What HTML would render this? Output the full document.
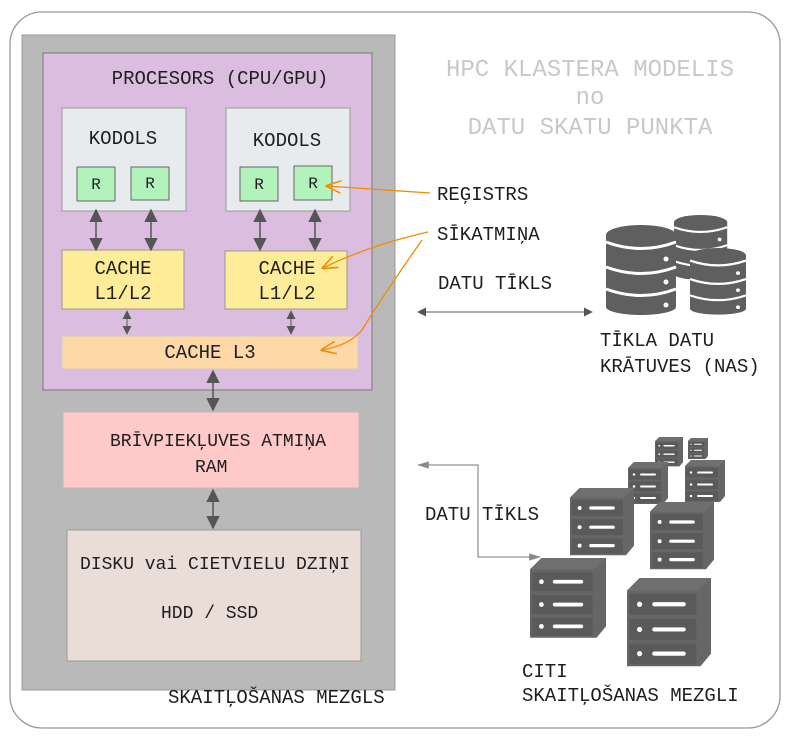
<!DOCTYPE html>
<html><head><meta charset="utf-8"><style>
body{margin:0;background:#fff}
svg text{font-family:"Liberation Mono",monospace;fill:#1e1e1e}
svg text.t{fill:#c8c8c8}
</style></head><body>
<svg width="789" height="738" viewBox="0 0 789 738" xmlns="http://www.w3.org/2000/svg">
<defs>
<marker id="ad" viewBox="0 0 10 10" refX="9" refY="5" markerWidth="9" markerHeight="9" orient="auto-start-reverse"><path d="M0,0 L10,5 L0,10 z" fill="#555"/></marker>
<marker id="ao" viewBox="0 0 10 10" refX="9" refY="5" markerWidth="12" markerHeight="12" orient="auto"><path d="M0,1 L10,5 L0,9" fill="none" stroke="#f08c00" stroke-width="1"/></marker>
<marker id="ag" viewBox="0 0 10 10" refX="9" refY="5" markerWidth="12" markerHeight="12" orient="auto-start-reverse"><path d="M0,2 L10,5 L0,8 z" fill="#888"/></marker>
<g id="srv">
<path d="M0,12 L12,0 L80,0 L80,0 L80,72 L70,84 L0,84 z" fill="#666"/>
<path d="M12,0 L80,0 L68,12 L0,12 z" fill="#6f6f6f"/>
<rect x="2" y="15" width="64" height="20" fill="#5a5a5a"/><rect x="2" y="39" width="64" height="20" fill="#5a5a5a"/><rect x="2" y="63" width="64" height="19" fill="#5a5a5a"/>
<circle cx="12" cy="25" r="2.5" fill="#fff"/><rect x="24" y="23" width="32" height="4" rx="2" fill="#fff"/>
<circle cx="12" cy="49" r="2.5" fill="#fff"/><rect x="24" y="47" width="32" height="4" rx="2" fill="#fff"/>
<circle cx="12" cy="72" r="2.5" fill="#fff"/><rect x="24" y="70" width="32" height="4" rx="2" fill="#fff"/>
</g>
<g id="db">
<rect x="0" y="10" width="70" height="72" fill="#5f5f5f"/>
<ellipse cx="35" cy="10" rx="35" ry="10" fill="#5f5f5f"/>
<ellipse cx="35" cy="82" rx="35" ry="8" fill="#5f5f5f"/>
<path d="M0,17 Q35,30 70,17" stroke="#fff" stroke-width="3" fill="none"/>
<path d="M0,42 Q35,55 70,42" stroke="#fff" stroke-width="3" fill="none"/>
<path d="M0,64 Q35,77 70,64" stroke="#fff" stroke-width="3" fill="none"/>
<circle cx="60" cy="34" r="2.5" fill="#fff"/><circle cx="60" cy="57" r="2.5" fill="#fff"/><circle cx="60" cy="80" r="2.5" fill="#fff"/>
</g>
</defs>
<rect x="10" y="12" width="770" height="716" rx="32" fill="#fff" stroke="#999" stroke-width="1.3"/>
<rect x="22" y="35" width="373" height="655" fill="#b9b9b9" stroke="#999"/>
<rect x="43" y="53" width="329" height="337" fill="#dbbde0" stroke="#777"/>
<text x="220" y="84" font-size="19" text-anchor="middle">PROCESORS (CPU/GPU)</text>
<rect x="62" y="108" width="124" height="103" fill="#e8ebee" stroke="#999"/>
<rect x="226" y="108" width="124" height="103" fill="#e8ebee" stroke="#999"/>
<text x="123" y="144" font-size="19" text-anchor="middle">KODOLS</text>
<text x="287" y="146" font-size="19" text-anchor="middle">KODOLS</text>
<g fill="#b2f2bb" stroke="#666">
<rect x="77" y="167" width="38" height="34"/><rect x="131" y="167" width="38" height="33"/>
<rect x="240" y="167" width="38" height="34"/><rect x="294" y="166" width="38" height="34"/>
</g>
<g font-size="16" text-anchor="middle"><text x="96" y="189">R</text><text x="150" y="188">R</text><text x="259" y="189">R</text><text x="313" y="188">R</text></g>
<rect x="62" y="250" width="122" height="59" fill="#ffec99" stroke="#999"/>
<rect x="225" y="251" width="122" height="58" fill="#ffec99" stroke="#999"/>
<g font-size="19" text-anchor="middle"><text x="123" y="274">CACHE</text><text x="123" y="299">L1/L2</text><text x="287" y="274">CACHE</text><text x="287" y="299">L1/L2</text></g>
<rect x="62" y="336" width="296" height="33" fill="#ffd8a8" stroke="#ccc"/>
<text x="210" y="358" font-size="19" text-anchor="middle">CACHE L3</text>
<g stroke="#555" stroke-width="1.5" marker-start="url(#ad)" marker-end="url(#ad)">
<line x1="96" y1="210" x2="96" y2="250"/><line x1="151" y1="210" x2="151" y2="250"/>
<line x1="260" y1="210" x2="260" y2="250"/><line x1="315" y1="210" x2="315" y2="250"/>
<line x1="213" y1="371" x2="213" y2="410"/><line x1="213" y1="490" x2="213" y2="528"/>
</g>
<g stroke="#555" stroke-width="1" marker-start="url(#ad)" marker-end="url(#ad)">
<line x1="127" y1="311" x2="127" y2="334" /><line x1="291" y1="311" x2="291" y2="334"/>
</g>
<rect x="63" y="412" width="296" height="76" fill="#ffc9c9" stroke="#bbb"/>
<text x="110" y="446" font-size="18">BRĪVPIEKĻUVES ATMIŅA</text>
<text x="195" y="472" font-size="18">RAM</text>
<rect x="67" y="530" width="294" height="131" fill="#eaddd7" stroke="#999"/>
<text x="80" y="569" font-size="18">DISKU vai CIETVIELU DZIŅI</text>
<text x="161" y="618" font-size="18">HDD / SSD</text>
<text x="168" y="703" font-size="19">SKAITĻOŠANAS MEZGLS</text>
<g font-size="24" text-anchor="middle"><text class="t" x="590" y="76">HPC KLASTERA MODELIS</text><text class="t" x="590" y="104">no</text><text class="t" x="590" y="134">DATU SKATU PUNKTA</text></g>
<text x="437" y="200" font-size="19">REĢISTRS</text>
<text x="437" y="240" font-size="19">SĪKATMIŅA</text>
<g stroke="#f08c00" stroke-width="1.3" fill="none" marker-end="url(#ao)">
<path d="M430,193 L327,186"/>
<path d="M428,232 Q370,245 323,268"/>
<path d="M422,240 Q380,300 362,330 Q350,345 322,350"/>
</g>
<text x="438" y="289" font-size="19">DATU TĪKLS</text>
<line x1="418" y1="312" x2="592" y2="312" stroke="#555" stroke-width="1" marker-start="url(#ad)" marker-end="url(#ad)"/>
<use href="#db" transform="translate(674,215) scale(0.76,0.72)"/>
<use href="#db" transform="translate(606,225)"/>
<use href="#db" transform="translate(690,248) scale(0.8,0.74)"/>
<text x="600" y="346" font-size="19">TĪKLA DATU</text>
<text x="600" y="372" font-size="19">KRĀTUVES (NAS)</text>
<path d="M418,465 L478,465 L478,557 L540,557" stroke="#777" fill="none" marker-start="url(#ag)" marker-end="url(#ag)"/>
<text x="425" y="520" font-size="19">DATU TĪKLS</text>
<use href="#srv" transform="translate(655,437) scale(0.35)"/>
<use href="#srv" transform="translate(688,438) scale(0.25)"/>
<use href="#srv" transform="translate(628,462) scale(0.5)"/>
<use href="#srv" transform="translate(685,460) scale(0.5)"/>
<use href="#srv" transform="translate(570,488) scale(0.8)"/>
<use href="#srv" transform="translate(650,502) scale(0.8)"/>
<use href="#srv" transform="translate(530,558) scale(0.95)"/>
<use href="#srv" transform="translate(627,578) scale(1.05)"/>
<text x="522" y="677" font-size="19">CITI</text>
<text x="522" y="701" font-size="19">SKAITĻOŠANAS MEZGLI</text>
</svg>
</body></html>
